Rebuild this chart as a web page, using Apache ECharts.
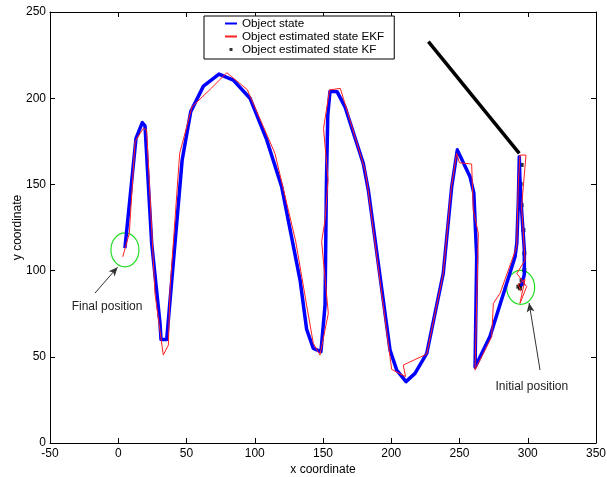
<!DOCTYPE html>
<html>
<head>
<meta charset="utf-8">
<script src="https://cdn.jsdelivr.net/npm/echarts@6/dist/echarts.min.js"></script>
<style>
  html, body { margin: 0; padding: 0; background: #fff; }
  #chart { width: 607px; height: 477px; }
</style>
</head>
<body>
<div id="chart"></div>
<script>
// true trajectory, from initial to final position
const objectState = [
  [295.5, 91], [297.5, 98], [297.5, 112], [295.5, 135], [294.3, 152], [293.8, 166],
  [293.1, 140], [292, 116], [290.7, 108], [272.3, 61.7], [261.4, 44], [262.6, 108],
  [260.5, 145], [257.7, 154.5], [248.4, 170], [244.3, 148.7], [238.1, 98.4], [226, 52],
  [217.4, 40.4], [210.8, 35.6], [204, 42.3], [199.1, 53.9], [183.2, 146.7], [179.5, 162.2],
  [166.1, 195], [160.3, 203.8], [155.1, 204], [153.5, 190], [152.5, 150], [151.5, 80],
  [148.5, 53], [142.9, 54.9], [138, 66], [133.2, 94.5], [119.7, 148.7], [108.8, 175.8],
  [96.5, 200], [84.3, 210.5], [73.8, 214], [62.4, 207], [53.1, 192.2], [46.8, 164],
  [35.5, 60.1], [31.3, 60.1], [30.6, 69.4], [24.5, 115.8], [19.6, 183.9], [17.6, 185.8],
  [13, 176.7], [4.9, 113]
];

// EKF estimate
const ekfEstimate = [
  [295, 88], [293, 92], [298, 95], [294.3, 81], [299.2, 90.7], [292, 98.4], [298, 106],
  [296.5, 125], [295.5, 137], [298.7, 167], [294.3, 167], [293.1, 150.6], [291.9, 113.9],
  [279.7, 86.8], [274.8, 81], [273.6, 61.7], [261.4, 42.3], [263.8, 121.6], [260.1, 135.1],
  [258.9, 161.8], [249.9, 162.6], [247.9, 168], [244, 148], [238, 98], [226, 51.6],
  [208.8, 45.2], [210.5, 38.5], [200.3, 42.7], [183, 147], [180.8, 158.3], [162.7, 205.7],
  [154.8, 204.8], [150.4, 182.5], [153.7, 152.6], [151.5, 129.3], [149, 116.8], [153.9, 75.2],
  [147.8, 51], [142.9, 57.8], [138, 80], [130, 117], [114.8, 168], [94.5, 205], [79.5, 214.8],
  [68.1, 205.7], [54, 195], [45, 168], [38, 90], [36.7, 56.8], [33, 51], [26.9, 86.8],
  [20.8, 181.6], [18.4, 182.5], [12.3, 174.8], [8.1, 121.6], [3.3, 108]
];

// KF estimate: separate points plus the dense diagonal run
const kfPoints = [
  [295.5, 161.3], [294.8, 150.2], [295.5, 138], [296.8, 123.5], [297.5, 110], [297.5, 100.3],
  [296.3, 92.6], [294.3, 89.7], [293.1, 90.7], [295.5, 94.5], [294.5, 91.5]
];
const kfTrack = [[227.2, 232.8], [293.8, 168]];

// annotations (data coordinates)
const finalPos = [4.9, 112];
const initialPos = [294.8, 90.3];
const finalArrow = [[-17, 87], [-0.5, 102]];
const initialArrow = [[309, 42.3], [301, 81.2]];
const finalLabel = [-8.2, 78.9];
const initialLabel = [303, 32.5];

const FONT = '"Liberation Sans", Arial, sans-serif';
const chart = echarts.init(document.getElementById('chart'));

const boxAxis = (extra) => Object.assign({
  type: 'value',
  axisLine: { onZero: false, lineStyle: { color: '#000', width: 1 } },
  axisTick: { inside: true, length: 5, lineStyle: { color: '#000' } },
  splitLine: { show: false },
  axisLabel: { color: '#000', fontSize: 12, fontFamily: FONT }
}, extra);

const hiddenMarker = { color: 'rgba(0,0,0,0)', borderWidth: 0, opacity: 0 };

const option = {
  animation: false,
  backgroundColor: '#fff',
  grid: { left: 50, top: 12, width: 546, height: 431, containLabel: false, outerBoundsMode: 'none' },
  legend: {
    orient: 'vertical',
    left: 204,
    top: 16,
    padding: [1, 10, 3, 20],
    itemGap: 0,
    itemWidth: 12,
    itemHeight: 9,
    backgroundColor: '#fff',
    borderColor: '#000',
    borderWidth: 1,
    borderRadius: 0,
    selectedMode: false,
    textStyle: { color: '#000', fontSize: 11.7, fontFamily: FONT, lineHeight: 13 },
    data: [
      { name: 'Object state', itemStyle: hiddenMarker },
      { name: 'Object estimated state EKF', itemStyle: hiddenMarker },
      { name: 'Object estimated state KF', icon: 'path://M0,0 M4.5,3 L7.5,3 L7.5,6 L4.5,6 Z M12,9' }
    ]
  },
  xAxis: [
    boxAxis({
      min: -50, max: 350, interval: 50, position: 'bottom',
      name: 'x coordinate', nameLocation: 'middle', nameGap: 21, nameMoveOverlap: false,
      nameTextStyle: { color: '#000', fontSize: 12, fontFamily: FONT },
      axisLabel: { color: '#000', fontSize: 12, fontFamily: FONT, margin: 5 }
    }),
    boxAxis({ min: -50, max: 350, interval: 50, position: 'top', axisLabel: { show: false } })
  ],
  yAxis: [
    boxAxis({
      min: 0, max: 250, interval: 50, position: 'left',
      name: 'y coordinate', nameLocation: 'middle', nameGap: 26, nameMoveOverlap: false,
      nameTextStyle: { color: '#000', fontSize: 12, fontFamily: FONT },
      axisLabel: { color: '#000', fontSize: 12, fontFamily: FONT, margin: 4 }
    }),
    boxAxis({ min: 0, max: 250, interval: 50, position: 'right', axisLabel: { show: false } })
  ],
  series: [
    {
      name: 'Object state',
      type: 'line',
      data: objectState,
      symbol: 'none',
      lineStyle: { color: '#0000ff', width: 3.5, join: 'round' },
      itemStyle: { color: '#0000ff' }
    },
    {
      name: 'Object estimated state EKF',
      type: 'line',
      data: ekfEstimate,
      symbol: 'none',
      lineStyle: { color: '#ff2020', width: 1 },
      itemStyle: { color: '#ff2020' }
    },
    {
      name: 'Object estimated state KF',
      type: 'scatter',
      data: kfPoints,
      symbol: 'rect',
      symbolSize: 4,
      itemStyle: { color: '#000' }
    },
    {
      name: 'Object estimated state KF',
      type: 'line',
      data: kfTrack,
      symbol: 'none',
      lineStyle: { color: '#000', width: 3.5 }
    },
    {
      name: 'annotations',
      type: 'line',
      data: [],
      silent: true,
      markLine: {
        silent: true,
        symbol: ['none', 'arrow'],
        symbolSize: [6, 9],
        label: { show: false },
        lineStyle: { color: '#333', width: 1, type: 'solid' },
        data: [
          [{ coord: finalArrow[0] }, { coord: finalArrow[1] }],
          [{ coord: initialArrow[0] }, { coord: initialArrow[1] }]
        ]
      }
    }
  ]
};

chart.setOption(option);

const toPx = (p) => chart.convertToPixel({ xAxisIndex: 0, yAxisIndex: 0 }, p);
const ellipseAt = (p) => {
  const c = toPx(p);
  return {
    type: 'ellipse',
    shape: { cx: c[0], cy: c[1], rx: 14, ry: 17 },
    style: { fill: 'none', stroke: '#22dd22', lineWidth: 1.2 },
    silent: true
  };
};
const textAt = (p, text) => {
  const c = toPx(p);
  return {
    type: 'text',
    x: c[0], y: c[1],
    style: { text, fill: '#222', font: '12px ' + FONT, align: 'center', verticalAlign: 'middle' },
    silent: true
  };
};

chart.setOption({
  graphic: [
    ellipseAt(finalPos),
    ellipseAt(initialPos),
    textAt(finalLabel, 'Final position'),
    textAt(initialLabel, 'Initial position')
  ]
});
</script>
</body>
</html>
